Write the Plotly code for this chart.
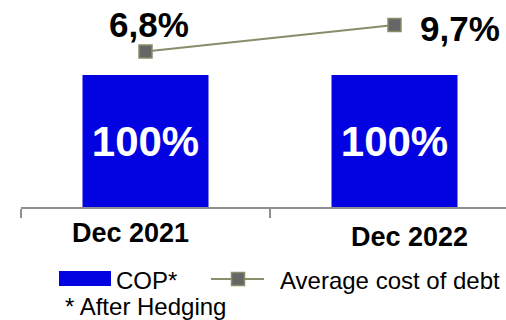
import plotly.graph_objects as go

# --- data ---
categories = ["Dec 2021", "Dec 2022"]
cop_share = [100, 100]            # COP* share of debt (%)
avg_cost_of_debt = [6.8, 9.7]     # average cost of debt (%)
bar_name = "COP*"
line_name = "Average cost of debt"
footnote = "* After Hedging"

# --- styling ---
FONT = "Arial, Liberation Sans, sans-serif"
BLUE = "#0303E1"
OLIVE = "#8A8D6B"
MARKER_GRAY = "#666666"
AXIS_GRAY = "#8F8F8F"

W, H = 506, 320
L, R, T, B = 21, 0, 0, 113
PLOT_W, PLOT_H = W - L - R, H - T - B


def px(x):
    """pixel column -> paper x"""
    return (x - L) / PLOT_W


def py(y):
    """pixel row -> paper y"""
    return (PLOT_H + T - y) / PLOT_H


fig = go.Figure()

fig.add_trace(go.Bar(
    x=categories, y=cop_share, name=bar_name,
    marker=dict(color=BLUE, line=dict(width=0)),
    width=0.506,
    texttemplate="%{y:.0f}%", textposition="inside", insidetextanchor="middle",
    textfont=dict(family=FONT, size=42, color="white", weight="bold"),
    constraintext="none", showlegend=False, hoverinfo="skip",
))

fig.add_trace(go.Scatter(
    x=categories, y=avg_cost_of_debt, name=line_name, yaxis="y2",
    mode="lines+markers",
    line=dict(color=OLIVE, width=2),
    marker=dict(symbol="square", size=13, color=MARKER_GRAY,
                line=dict(color=OLIVE, width=1.5)),
    showlegend=False, hoverinfo="skip",
))

annotations = []

# value labels for the cost of debt line
label_offsets = [dict(xanchor="center", xshift=3, yshift=27),
                 dict(xanchor="left", xshift=23, yshift=-3)]
for cat, v, off in zip(categories, avg_cost_of_debt, label_offsets):
    annotations.append(dict(
        x=cat, y=v, xref="x", yref="y2", showarrow=False,
        text=f"{v:.1f}%".replace(".", ","), yanchor="middle",
        font=dict(family=FONT, size=35, color="black", weight="bold"),
        **off,
    ))

# category labels below the axis
cat_offsets = [(-15, 233), (15, 237)]
for cat, (dx, row) in zip(categories, cat_offsets):
    annotations.append(dict(
        x=cat, xref="x", y=py(row), yref="paper", xshift=dx,
        showarrow=False, text=cat, xanchor="center", yanchor="middle",
        font=dict(family=FONT, size=27, color="black", weight="bold"),
    ))

# legend text
legend_font = dict(family=FONT, size=24, color="black")
annotations += [
    dict(x=px(114), y=py(280), xref="paper", yref="paper", showarrow=False,
         text=bar_name, xanchor="left", yanchor="middle", font=legend_font),
    dict(x=px(278), y=py(280), xref="paper", yref="paper", showarrow=False,
         text=line_name, xanchor="left", yanchor="middle", font=legend_font),
    dict(x=px(63), y=py(306), xref="paper", yref="paper", showarrow=False,
         text=footnote, xanchor="left", yanchor="middle", font=legend_font),
]

# legend glyphs
shapes = [
    dict(type="rect", xref="paper", yref="paper",
         x0=px(59), x1=px(111), y0=py(286), y1=py(271),
         fillcolor=BLUE, line=dict(width=0)),
    dict(type="line", xref="paper", yref="paper",
         x0=px(211), x1=px(264), y0=py(279), y1=py(279),
         line=dict(color=OLIVE, width=2)),
    dict(type="rect", xref="paper", yref="paper",
         x0=px(231.5), x1=px(244.5), y0=py(285.5), y1=py(272.5),
         fillcolor=MARKER_GRAY, line=dict(color=OLIVE, width=1.5)),
]

fig.update_layout(
    width=W, height=H, autosize=False,
    margin=dict(l=L, r=R, t=T, b=B, pad=0),
    paper_bgcolor="white", plot_bgcolor="white",
    separators=",.",
    showlegend=False,
    xaxis=dict(
        type="category", range=[-0.5, -0.5 + PLOT_W / 249],
        showline=True, linecolor=AXIS_GRAY, linewidth=1.5,
        ticks="outside", tickson="boundaries", ticklen=9,
        tickcolor=AXIS_GRAY, tickwidth=1.5,
        showticklabels=False, showgrid=False, zeroline=False, fixedrange=True,
    ),
    yaxis=dict(range=[0, 100 * PLOT_H / 132], visible=False, fixedrange=True),
    yaxis2=dict(range=[-10.21, 12.44], overlaying="y", side="right",
                visible=False, fixedrange=True),
    annotations=annotations,
    shapes=shapes,
)

fig.write_html("out.html")
